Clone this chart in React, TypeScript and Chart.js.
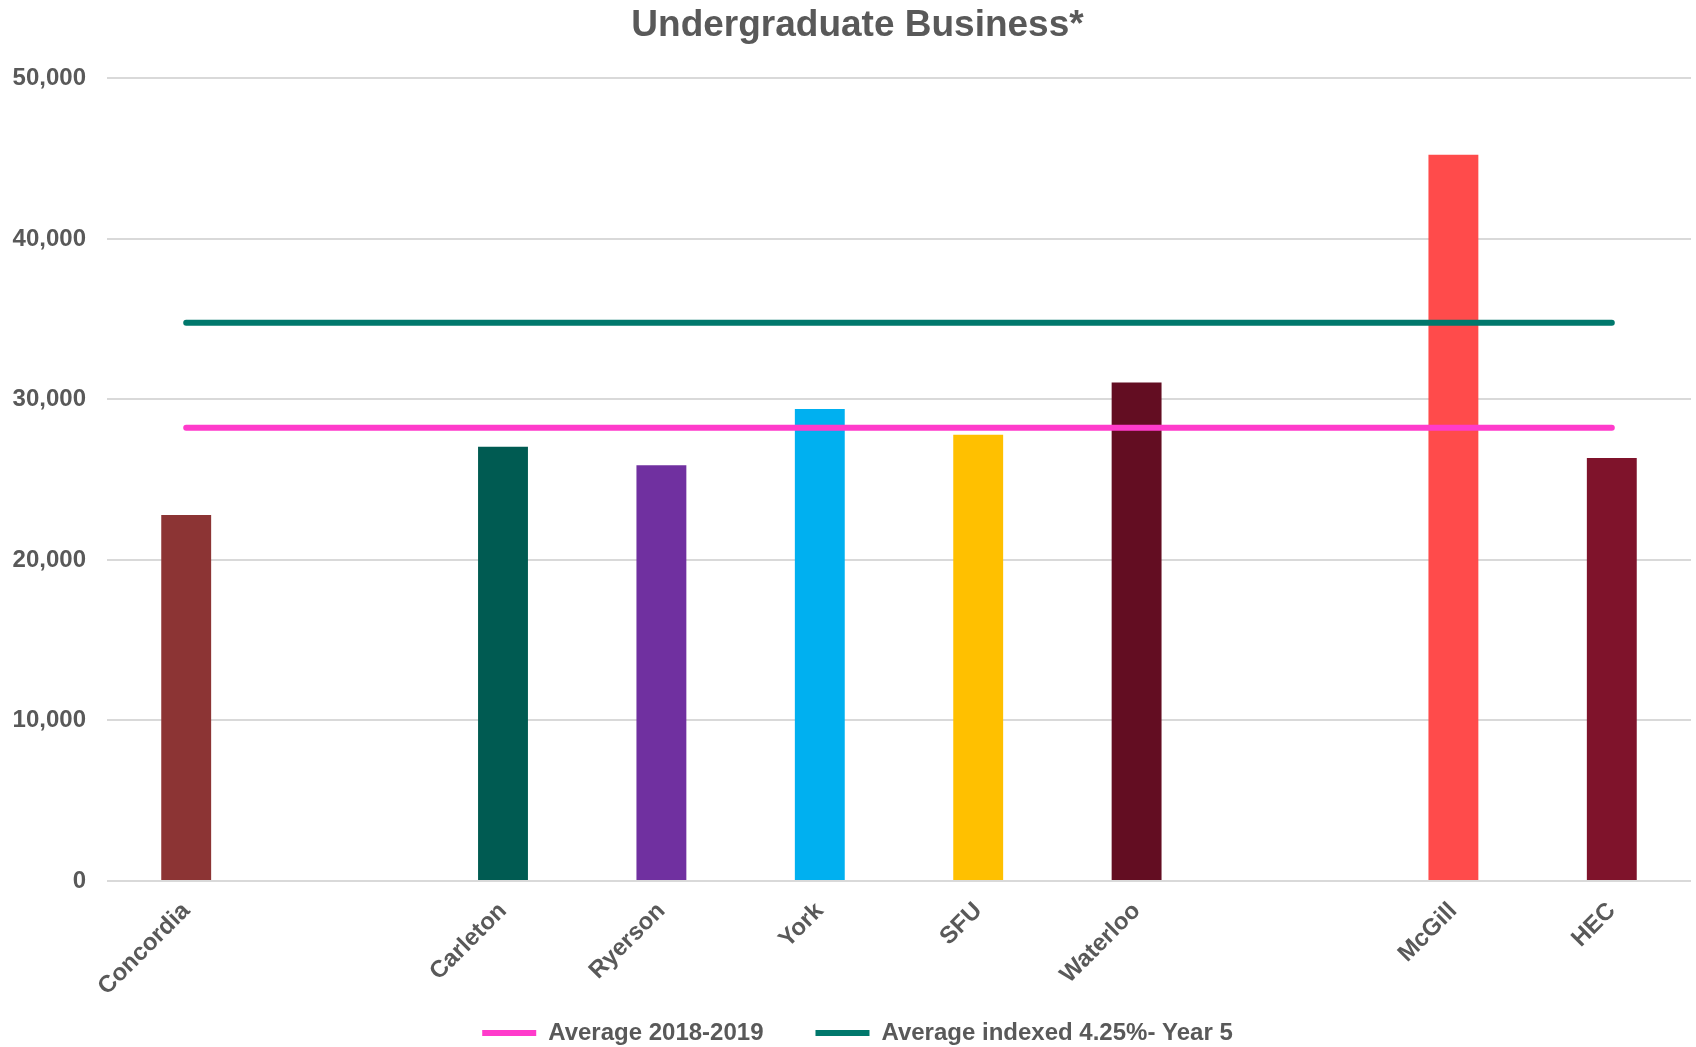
import React, { useEffect, useRef } from "react";
import { Chart, registerables } from "chart.js";

Chart.register(...registerables);

const categories = ["Concordia", "", "Carleton", "Ryerson", "York", "SFU", "Waterloo", "", "McGill", "HEC"];
const tuitionValues = [22800, null, 27050, 25900, 29400, 27800, 31050, null, 45250, 26350];
const barColors = ["#8C3434", "#005B52", "#005B52", "#7030A0", "#00B0F0", "#FFC000", "#630D22", "#630D22", "#FF4B4B", "#7F132B"];
const average2018Values = [28230, 28230, 28230, 28230, 28230, 28230, 28230, 28230, 28230, 28230];
const averageIndexedValues = [34780, 34780, 34780, 34780, 34780, 34780, 34780, 34780, 34780, 34780];
const yTickValues = [0, 10000, 20000, 30000, 40000, 50000];

const FONT = "'Liberation Sans', Arial, sans-serif";
const GRAY = "#595959";

export default function App() {
  const ref = useRef<HTMLCanvasElement | null>(null);

  useEffect(() => {
    if (!ref.current) return;
    const chart = new Chart(ref.current, {
      type: "bar",
      data: {
        labels: categories,
        datasets: [
          {
            type: "line",
            label: "Average 2018-2019",
            data: average2018Values,
            borderColor: "#FF3BCB",
            backgroundColor: "#FF3BCB",
            borderWidth: 6,
            borderCapStyle: "round",
            pointRadius: 0,
            order: 0,
          },
          {
            type: "line",
            label: "Average indexed 4.25%- Year 5",
            data: averageIndexedValues,
            borderColor: "#00786C",
            backgroundColor: "#00786C",
            borderWidth: 6,
            borderCapStyle: "round",
            pointRadius: 0,
            order: 0,
          },
          {
            type: "bar",
            label: "Tuition",
            data: tuitionValues,
            backgroundColor: barColors,
            categoryPercentage: 0.315,
            barPercentage: 1,
            order: 1,
          },
        ],
      },
      options: {
        responsive: false,
        animation: false,
        layout: { padding: { left: 24, right: 5, top: 0, bottom: 0 } },
        plugins: {
          title: {
            display: true,
            text: "Undergraduate Business*",
            color: GRAY,
            font: { family: FONT, size: 37, weight: "bold" },
            padding: { top: 4, bottom: 30 },
          },
          legend: {
            position: "bottom",
            labels: {
              filter: (item) => item.text !== "Tuition",
              usePointStyle: true,
              pointStyle: "line",
              pointStyleWidth: 54,
              color: GRAY,
              font: { family: FONT, size: 24, weight: "bold" },
              padding: 52,
            },
          },
          tooltip: { enabled: false },
        },
        scales: {
          x: {
            grid: { display: false, drawTicks: false },
            border: { display: false },
            afterFit: (scale: any) => {
              scale.height = 88;
              scale.paddingLeft = 0;
              scale._computeLabelArea = () => undefined;
            },
            ticks: {
              autoSkip: false,
              maxRotation: 45,
              minRotation: 45,
              padding: 16,
              color: GRAY,
              font: { family: FONT, size: 24, weight: "bold" },
            },
          },
          y: {
            min: 0,
            max: 50000,
            afterBuildTicks: (axis) => {
              axis.ticks = yTickValues.map((v) => ({ value: v }));
            },
            afterFit: (scale: any) => {
              scale.width = 83;
              scale._computeLabelArea = () => undefined;
            },
            grid: { color: "#D9D9D9", lineWidth: 2, drawTicks: false },
            border: { display: false },
            ticks: {
              padding: 21,
              color: GRAY,
              font: { family: FONT, size: 24, weight: "bold" },
            },
          },
        },
      },
    });
    return () => chart.destroy();
  }, []);

  return (
    <div style={{ position: "fixed", left: 0, top: 0, width: 1696, height: 1047, overflow: "hidden", background: "#fff" }}>
      <canvas ref={ref} width={1696} height={1055} style={{ display: "block" }} />
    </div>
  );
}
